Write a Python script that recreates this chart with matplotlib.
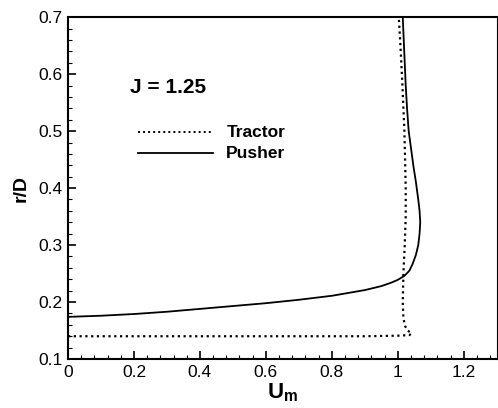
import matplotlib
matplotlib.use('Agg')
import matplotlib.pyplot as plt
from matplotlib.ticker import MultipleLocator

plt.rcParams['font.family'] = ['Liberation Sans', 'DejaVu Sans']
plt.rcParams['mathtext.fontset'] = 'custom'
plt.rcParams['mathtext.bf'] = 'Liberation Sans:bold'

# Tractor profile (dotted): U_m vs r/D
tractor_u = [0.0, 0.30, 0.60, 0.90, 1.000, 1.035, 1.042, 1.030, 1.022, 1.017, 1.015, 1.017, 1.021,
             1.024, 1.024, 1.020, 1.014, 1.008, 1.003]
tractor_r = [0.140, 0.140, 0.140, 0.140, 0.141, 0.142, 0.145, 0.150, 0.158, 0.172, 0.200, 0.250, 0.300,
             0.350, 0.400, 0.500, 0.580, 0.650, 0.700]

# Pusher profile (solid)
pusher_u = [0.0, 0.10, 0.20, 0.30, 0.40, 0.50, 0.60, 0.70, 0.80, 0.85, 0.90, 0.95, 0.98, 1.00,
            1.02, 1.035, 1.045, 1.055, 1.062, 1.066, 1.068, 1.066, 1.062, 1.055, 1.047, 1.040,
            1.033, 1.028, 1.024, 1.021, 1.018, 1.015]
pusher_r = [0.174, 0.176, 0.179, 0.183, 0.188, 0.193, 0.198, 0.204, 0.211, 0.216, 0.221, 0.228,
            0.234, 0.239, 0.246, 0.255, 0.267, 0.283, 0.300, 0.320, 0.340, 0.360, 0.380, 0.410,
            0.440, 0.470, 0.500, 0.540, 0.580, 0.620, 0.660, 0.700]

fig = plt.figure(figsize=(4.98, 4.08), dpi=100)
ax = fig.add_axes([0.1365, 0.120, 0.861, 0.838])

ax.plot(tractor_u, tractor_r, color='black', linestyle=(0, (1, 1.6)), linewidth=1.6)
ax.plot(pusher_u, pusher_r, color='black', linestyle='-', linewidth=1.3)

ax.set_xlim(0, 1.3)
ax.set_ylim(0.1, 0.7)
ax.xaxis.set_minor_locator(MultipleLocator(0.04))
ax.yaxis.set_minor_locator(MultipleLocator(0.02))
ax.set_xticks([0, 0.2, 0.4, 0.6, 0.8, 1.0, 1.2])
ax.set_xticklabels(['0', '0.2', '0.4', '0.6', '0.8', '1', '1.2'])
ax.set_yticks([0.1, 0.2, 0.3, 0.4, 0.5, 0.6, 0.7])
ax.set_yticklabels(['0.1', '0.2', '0.3', '0.4', '0.5', '0.6', '0.7'])

ax.tick_params(which='major', direction='in', length=6, width=1.2, labelsize=12.5, pad=4)
ax.tick_params(which='minor', direction='in', length=3, width=0.8)
for s in ax.spines.values():
    s.set_linewidth(1.5)
ax.spines['right'].set_linewidth(0.8)

ax.set_xlabel(r'$\mathbf{U}_{\mathbf{m}}$', fontsize=16, labelpad=1)
ax.set_ylabel('r/D', fontsize=14, fontweight='bold', labelpad=6)

# annotation and hand-drawn legend
ax.text(0.187, 0.577, 'J = 1.25', fontsize=15, fontweight='bold', va='center', ha='left')
ax.plot([0.211, 0.438], [0.498, 0.498], color='black', linestyle=(0, (1, 1.6)), linewidth=1.4)
ax.plot([0.211, 0.440], [0.461, 0.461], color='black', linestyle='-', linewidth=1.3)
ax.text(0.48, 0.498, 'Tractor', fontsize=12.5, fontweight='bold', va='center', ha='left')
ax.text(0.48, 0.461, 'Pusher', fontsize=12.5, fontweight='bold', va='center', ha='left')

fig.savefig('out.png', dpi=100)
